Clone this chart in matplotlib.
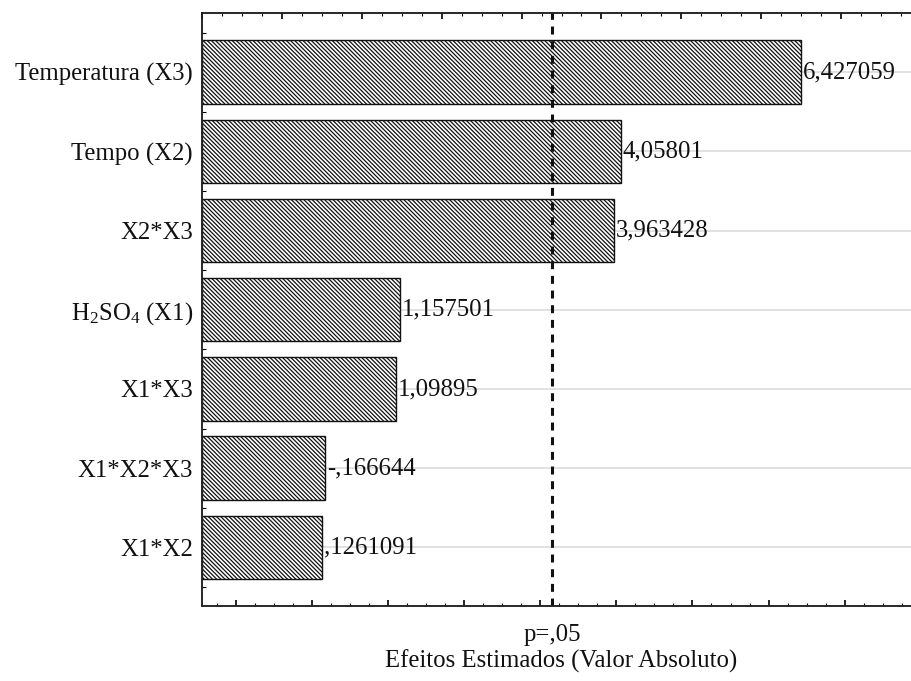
import matplotlib
matplotlib.use("Agg")
import matplotlib.pyplot as plt
import matplotlib.transforms as mtransforms
from matplotlib.ticker import MultipleLocator, NullFormatter

plt.rcParams['font.family'] = ['Liberation Serif', 'DejaVu Serif']
plt.rcParams['mathtext.fontset'] = 'custom'
plt.rcParams['mathtext.rm'] = 'Liberation Serif'
plt.rcParams['mathtext.it'] = 'Liberation Serif:italic'
plt.rcParams['hatch.linewidth'] = 0.9
plt.rcParams['hatch.color'] = '#222222'

# ---- data ----
factors = ["Temperatura (X3)", "Tempo (X2)", "X2*X3", r"H$_2$SO$_4$ (X1)",
           "X1*X3", "X1*X2*X3", "X1*X2"]
effects = [6.427059, 4.05801, 3.963428, 1.157501, 1.09895, -0.166644, 0.1261091]
p_value_line = 3.155
p_label = "p=,05"
x_label = "Efeitos Estimados (Valor Absoluto)"

X_MIN, X_MAX = -1.443, 8.0


def fmt(v):
    s = f"{v:.7g}"
    if s.startswith("0."):
        s = s[1:]
    elif s.startswith("-0."):
        s = "-" + s[2:]
    return s.replace(".", ",")


W, H = 911, 681
fig = plt.figure(figsize=(W / 100, H / 100), dpi=100)
ax_left, ax_right = 202.3, 920.7
ax_top, ax_bot = 12.7, 606.0
ax = fig.add_axes([ax_left / W, 1 - ax_bot / H, (ax_right - ax_left) / W, (ax_bot - ax_top) / H])

pos = list(range(len(factors)))
absvals = [abs(v) for v in effects]

# gridlines
for p in pos:
    ax.axhline(p, color="#dcdcdc", lw=1.2, zorder=0.5)

hatch = chr(92) * 8
# bars are drawn from the axis minimum (Statistica style)
bars = ax.barh(pos, [a - X_MIN for a in absvals], left=X_MIN, height=0.8,
               color="white", edgecolor="#111111", linewidth=1.0,
               hatch=hatch, zorder=2)

for p, v, a in zip(pos, effects, absvals):
    ax.annotate(fmt(v), xy=(a, p), xytext=(1.5, 0), textcoords="offset points",
                ha="left", va="center", fontsize=17.8, color="#111111", zorder=4)

ax.axvline(p_value_line, color="#111111", lw=2.2, dashes=(2.6, 2.2), zorder=3)

ax.set_xlim(X_MIN, X_MAX)
ax.set_ylim(6.74, -0.75)

ax.set_yticks(pos)
ax.set_yticklabels(factors, fontsize=17.8, color="#111111")
ax.yaxis.set_minor_locator(MultipleLocator(0.5))
ax.tick_params(axis="y", which="both", direction="in", length=3, width=0.8,
               pad=6.7, right=False)

ax.xaxis.set_major_locator(MultipleLocator(1))
ax.xaxis.set_minor_locator(MultipleLocator(0.25))
ax.xaxis.set_major_formatter(NullFormatter())
ax.tick_params(axis="x", which="major", direction="in", length=4.5, width=1.2, top=False)
ax.tick_params(axis="x", which="minor", direction="in", length=2, width=0.8, top=False)

# top axis ticks (own scale)
ax2 = ax.twiny()
ax2.set_xlim(-1, 8)
ax2.xaxis.set_major_locator(MultipleLocator(1))
ax2.xaxis.set_minor_locator(MultipleLocator(0.25))
ax2.xaxis.set_major_formatter(NullFormatter())
ax2.tick_params(axis="x", which="major", direction="in", length=4.5, width=1.2,
                top=True, bottom=False, labeltop=False)
ax2.tick_params(axis="x", which="minor", direction="in", length=2, width=0.8,
                top=True, bottom=False)

for a in (ax, ax2):
    for sp in a.spines.values():
        sp.set_linewidth(1.1)
        sp.set_color("#222222")

trans = mtransforms.blended_transform_factory(ax.transData, ax.transAxes)
ax.text(p_value_line, -(641 - ax_bot) / (ax_bot - ax_top), p_label, transform=trans,
        ha="center", va="baseline", fontsize=17.8, color="#111111")

ax.set_xlabel(x_label, fontsize=17.8, color="#111111")
ax.xaxis.label.set_va("baseline")
ax.xaxis.set_label_coords(0.5, -(668 - ax_bot) / (ax_bot - ax_top))

fig.savefig("out.png", dpi=100)
